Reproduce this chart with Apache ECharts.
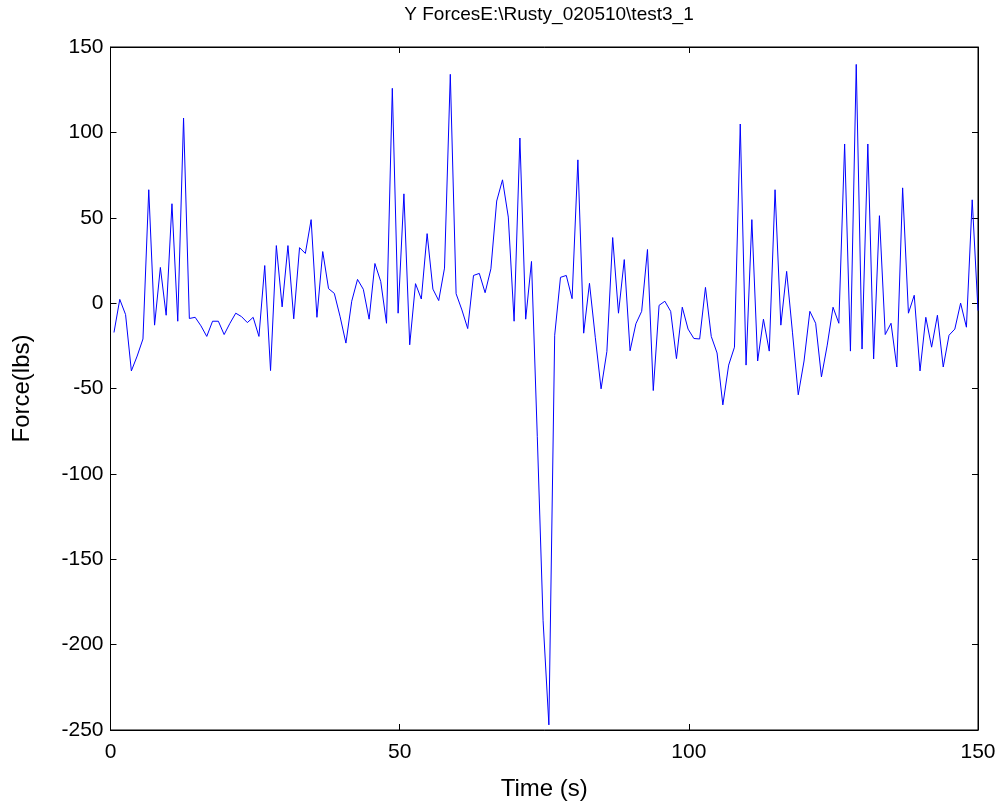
<!DOCTYPE html>
<html>
<head>
<meta charset="utf-8">
<script src="https://cdn.jsdelivr.net/npm/echarts@6/dist/echarts.min.js"></script>
<style>html,body{margin:0;padding:0;background:#fff;}#c{width:1003px;height:806px;}</style>
</head>
<body>
<div id="c"></div>
<script>
const titleText = 'Y ForcesE:\\Rusty_020510\\test3_1';
const xName = 'Time (s)';
const yName = 'Force(lbs)';
const xTicks = [0, 50, 100, 150];
const yTicks = [-250, -200, -150, -100, -50, 0, 50, 100, 150];
const tStart = 0.6;
const tStep = 1.0027;
const forceY = [
  -17.2, 2.2, -6.7, -39.7, -31, -21, 66.4, -12.9, 20.9, -7.1,
  58.2, -10.6, 108.4, -9, -8.3, -13.3, -19.5, -10.6, -10.6, -18.4,
  -11.8, -5.9, -7.9, -11.4, -8.3, -19.5, 22, -39.5, 33.7, -2.2,
  33.7, -9.2, 32.5, 29.1, 48.9, -8.3, 30.2, 8.5, 5.7, -8,
  -23.4, 1.1, 13.9, 8.1, -9.4, 23.2, 12.7, -11.8, 125.8, -5.9,
  64, -24.4, 11.4, 2.4, 40.7, 8.2, 1.5, 20.5, 134, 5.5,
  -4, -14.9, 16.2, 17.4, 6.1, 20.1, 59.8, 72.2, 50.4, -10.6,
  96.7, -9.4, 24.4, -78, -186, -247, -18.8, 15.1, 16.2, 2.6,
  83.9, -17.6, 11.6, -20, -50.2, -28.3, 38.4, -5.9, 25.5, -27.9,
  -12.1, -4.8, 31.4, -51.2, -1.3, 1.1, -4.8, -32.5, -2.4, -15.2,
  -20.7, -21, 9.2, -19.5, -29.2, -59.6, -36.3, -25.8, 104.9, -36.3,
  48.9, -33.9, -9.4, -28.1, 66.4, -12.9, 18.6, -17, -53.7, -33.9,
  -4.8, -11.8, -43.2, -24.6, -2.4, -11.8, 93.2, -28.1, 139.8, -26.9,
  93.2, -32.7, 51.2, -18.4, -11.8, -37.4, 67.5, -5.9, 4.6, -39.7,
  -8.3, -25.8, -7.1, -37.4, -18.8, -15.2, 0, -14.1, 60.5, -4.4
];
const times = forceY.map((_, i) => +(tStart + i * tStep).toFixed(3));
const pts = forceY.map((v, i) => [times[i], v]);

const font = 'Liberation Sans, Arial, sans-serif';
const chart = echarts.init(document.getElementById('c'), null, {renderer: 'canvas'});
function axLine() { return {show: true, onZero: false, lineStyle: {color: '#000', width: 1}}; }
function tick() { return {show: true, inside: true, length: 6, lineStyle: {color: '#000', width: 1}}; }
chart.setOption({
  animation: false,
  backgroundColor: '#fff',
  title: {
    text: titleText, left: 544, top: 0, textAlign: 'center',
    textStyle: {fontFamily: font, fontSize: 19, fontWeight: 'normal', color: '#000'}
  },
  grid: {left: 110.5, right: 25, top: 47, bottom: 73, show: true, borderColor: '#000', borderWidth: 1, backgroundColor: '#fff'},
  xAxis: [{
    type: 'value', min: xTicks[0], max: xTicks[xTicks.length - 1], interval: 50,
    position: 'bottom', name: xName, nameLocation: 'middle', nameGap: 47,
    nameTextStyle: {fontFamily: font, fontSize: 24, color: '#000'},
    axisLine: axLine(), axisTick: tick(), splitLine: {show: false},
    axisLabel: {fontFamily: font, fontSize: 21, color: '#000', margin: 12}
  }, {
    type: 'value', min: xTicks[0], max: xTicks[xTicks.length - 1], interval: 50,
    position: 'top', axisLine: axLine(), axisTick: tick(), splitLine: {show: false},
    axisLabel: {show: false}
  }],
  yAxis: [{
    type: 'value', min: yTicks[0], max: yTicks[yTicks.length - 1], interval: 50,
    position: 'left', name: yName, nameLocation: 'middle', nameGap: 76, nameRotate: 90,
    nameTextStyle: {fontFamily: font, fontSize: 24, color: '#000'},
    axisLine: axLine(), axisTick: tick(), splitLine: {show: false},
    axisLabel: {fontFamily: font, fontSize: 21, color: '#000', margin: 7}
  }, {
    type: 'value', min: yTicks[0], max: yTicks[yTicks.length - 1], interval: 50,
    position: 'right', axisLine: axLine(), axisTick: tick(), splitLine: {show: false},
    axisLabel: {show: false}
  }],
  series: [{
    type: 'line', data: pts, xAxisIndex: 0, yAxisIndex: 0,
    showSymbol: false, symbol: 'none', clip: true,
    lineStyle: {color: '#0000ff', width: 1}
  }]
});
</script>
</body>
</html>
